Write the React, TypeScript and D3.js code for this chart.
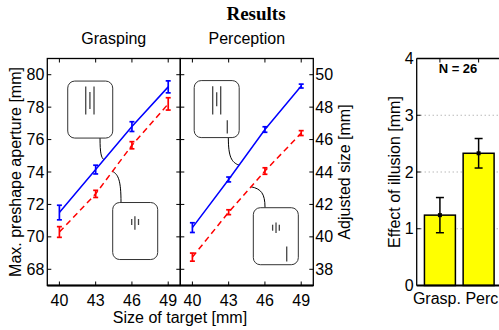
import React from 'react';
import * as d3 from 'd3';

// target sizes and means (mm)
const targetSizes = [40, 43, 46, 49];
const graspLarge = [71.5, 74.15, 76.8, 79.25];
const graspLargeErr = [0.45, 0.27, 0.3, 0.37];
const graspSmall = [70.3, 72.65, 75.65, 78.2];
const graspSmallErr = [0.33, 0.22, 0.22, 0.38];
const percLarge = [40.57, 43.54, 46.62, 49.3];
const percLargeErr = [0.3, 0.15, 0.17, 0.12];
const percSmall = [38.75, 41.52, 44.06, 46.4];
const percSmallErr = [0.25, 0.15, 0.2, 0.15];

const graspTicks = [68, 70, 72, 74, 76, 78, 80];
const percTicks = [38, 40, 42, 44, 46, 48, 50];

const effectLabels = ['Grasp.', 'Perc.'];
const effectValues = [1.24, 2.33];
const effectErr = [0.31, 0.26];
const effectTicks = [0, 1, 2, 3, 4];

const W = 499;
const H = 330;
const TOP = 58.5;
const BOTTOM = 285.5;
const SANS = '"Liberation Sans", Arial, sans-serif';

type Inset = {
  cx: number; cy: number; // box centre, data units
  lines: number[][]; // [dx, y1, y2] px relative to centre
  from: number[]; // connector start, px relative to centre
  to: number[]; // connector end, data units
};

const graspInsets: Inset[] = [
  { cx: 42.55, cy: 77.85, lines: [[-4.5, -23, 5], [-0.3, -17.5, -0.5], [3.8, -23, 5]], from: [9.8, 28.5], to: [43.69, 74.75] },
  { cx: 46.27, cy: 70.36, lines: [[-3.5, -12, -6], [-0.3, -14.7, -1.3], [3.3, -12, -6]], from: [-14.2, -28.5], to: [44.39, 74.04] },
];
const percInsets: Inset[] = [
  { cx: 42.01, cy: 47.88, lines: [[-4, -22.8, 5.5], [0, -16.8, -2.8], [4, -22.8, 5.5], [10.6, 11.2, 24.5]], from: [11.65, 28.5], to: [43.86, 44.42] },
  { cx: 46.9, cy: 40.04, lines: [[-3.2, -11.5, -5.5], [0.2, -13.8, -3.2], [3.5, -11.5, -5.5], [10.9, 10.2, 25.2]], from: [-10.8, -28.5], to: [44.85, 43.09] },
];

type Series = { values: number[]; err: number[]; color: string; dash?: string };

function Panel({ x0, x1, yDomain, ticks, side, title, series, insets }: {
  x0: number; x1: number; yDomain: [number, number]; ticks: number[]; side: 'left' | 'right';
  title: string; series: Series[]; insets: Inset[];
}) {
  const x = d3.scaleLinear().domain([39, 50]).range([x0, x1]);
  const y = d3.scaleLinear().domain(yDomain).range([BOTTOM, TOP]);
  const line = d3.line<number>().x((_, i) => x(targetSizes[i])).y(d => y(d));
  const tl = 4;
  return (
    <g>
      <text x={(x0 + x1) / 2} y={44} textAnchor="middle" fontSize={16} fontFamily={SANS}>{title}</text>
      {insets.map((n, i) => {
        const cx = x(n.cx), cy = y(n.cy);
        const sx = cx + n.from[0], sy = cy + n.from[1];
        const ex = x(n.to[0]), ey = y(n.to[1]);
        const d = `M${sx},${sy} C${sx},${sy + 0.7 * (ey - sy)} ${sx + 0.3 * (ex - sx)},${ey - 0.1 * (ey - sy)} ${ex},${ey}`;
        return (
          <g key={i}>
            <path d={d} fill="none" stroke="#000" strokeWidth={1} />
            <rect x={cx - 22.5} y={cy - 28.5} width={45} height={57} rx={7} fill="#fff" stroke="#333" strokeWidth={1} />
            {n.lines.map((l, j) => (
              <line key={j} x1={cx + l[0]} x2={cx + l[0]} y1={cy + l[1]} y2={cy + l[2]} stroke="#444" strokeWidth={1.3} />
            ))}
          </g>
        );
      })}
      {series.map((s, k) => (
        <g key={k}>
          <path d={line(s.values) || ''} fill="none" stroke={s.color} strokeWidth={1.5} strokeDasharray={s.dash} />
          {s.values.map((v, i) => {
            const px = x(targetSizes[i]);
            const lo = y(v - s.err[i]), hi = y(v + s.err[i]);
            return (
              <g key={i} stroke={s.color} strokeWidth={1.7}>
                <line x1={px} x2={px} y1={lo} y2={hi} />
                <line x1={px - 2.5} x2={px + 2.5} y1={lo} y2={lo} />
                <line x1={px - 2.5} x2={px + 2.5} y1={hi} y2={hi} />
              </g>
            );
          })}
        </g>
      ))}
      {ticks.map(t => (
        <g key={t} stroke="#000" strokeWidth={1}>
          <line x1={x0} x2={x0 + tl} y1={y(t)} y2={y(t)} />
          <line x1={x1} x2={x1 - tl} y1={y(t)} y2={y(t)} />
        </g>
      ))}
      {targetSizes.map(t => (
        <g key={t} stroke="#000" strokeWidth={1}>
          <line x1={x(t)} x2={x(t)} y1={TOP} y2={TOP + tl} />
          <line x1={x(t)} x2={x(t)} y1={BOTTOM} y2={BOTTOM - tl} />
        </g>
      ))}
      <rect x={x0} y={TOP} width={x1 - x0} height={BOTTOM - TOP} fill="none" stroke="#000" strokeWidth={1.3} />
      <line x1={x0} x2={x1} y1={BOTTOM} y2={BOTTOM} stroke="#000" strokeWidth={2} />
      {ticks.map(t => (
        <text key={t} x={side === 'left' ? x0 - 3 : x1 + 2} y={y(t) + 5.5}
          textAnchor={side === 'left' ? 'end' : 'start'} fontSize={16} fontFamily={SANS}>{t}</text>
      ))}
      {targetSizes.map(t => (
        <text key={t} x={x(t)} y={305.5} textAnchor="middle" fontSize={16} fontFamily={SANS}>{t}</text>
      ))}
    </g>
  );
}

function EffectChart() {
  const left = 416.7;
  const x = d3.scaleLinear().domain([0.4, 3.6]).range([left, left + 3.2 * 38.7]);
  const y = d3.scaleLinear().domain([0, 4]).range([BOTTOM, TOP]);
  const bw = 0.8 * 38.7;
  // labels sit a little apart from the bar centres in the original
  const labelShift = [-3, 5.5];
  return (
    <g>
      {[1, 2, 3].map(t => (
        <line key={t} x1={left} x2={W} y1={y(t)} y2={y(t)} stroke="#999" strokeWidth={1} strokeDasharray="1 3" />
      ))}
      {effectValues.map((v, i) => {
        const cx = x(i + 1);
        const lo = y(v - effectErr[i]), hi = y(v + effectErr[i]);
        return (
          <g key={i}>
            <rect x={cx - bw / 2} y={y(v)} width={bw} height={BOTTOM - y(v)} fill="#ffff00" stroke="#000" strokeWidth={1.5} />
            <g stroke="#000" strokeWidth={1.5}>
              <line x1={cx} x2={cx} y1={lo} y2={hi} />
              <line x1={cx - 4} x2={cx + 4} y1={lo} y2={lo} />
              <line x1={cx - 4} x2={cx + 4} y1={hi} y2={hi} />
            </g>
            <rect x={cx - 2} y={y(v) - 2} width={4} height={4} fill="#000" />
          </g>
        );
      })}
      {effectTicks.map(t => (
        <g key={t}>
          <line x1={left} x2={left + 4} y1={y(t)} y2={y(t)} stroke="#000" />
          <text x={left - 3} y={y(t) + 5.5} textAnchor="end" fontSize={16} fontFamily={SANS}>{t}</text>
        </g>
      ))}
      {effectLabels.map((l, i) => (
        <g key={l}>
          <line x1={x(i + 1)} x2={x(i + 1)} y1={TOP} y2={TOP + 4} stroke="#000" />
          <text x={x(i + 1) + labelShift[i]} y={303.5} textAnchor="middle" fontSize={16} fontFamily={SANS}>{l}</text>
        </g>
      ))}
      <line x1={left} x2={W} y1={TOP} y2={TOP} stroke="#000" strokeWidth={1.3} />
      <line x1={left} x2={left} y1={TOP} y2={BOTTOM} stroke="#000" strokeWidth={1.3} />
      <line x1={left} x2={W} y1={BOTTOM} y2={BOTTOM} stroke="#000" strokeWidth={2} />
      <text x={458} y={72.5} textAnchor="middle" fontSize={13} fontWeight="bold" fontFamily={SANS}>N = 26</text>
      <text transform={`translate(400,${(TOP + BOTTOM) / 2}) rotate(-90)`} textAnchor="middle" fontSize={16} fontFamily={SANS}>Effect of illusion [mm]</text>
    </g>
  );
}

export default function App() {
  return (
    <svg width={W} height={H} style={{ position: 'absolute', left: 0, top: 0, background: '#fff' }}>
      <rect width={W} height={H} fill="#fff" />
      <text x={256} y={20} textAnchor="middle" fontSize={19} fontWeight="bold" fontFamily='"Liberation Serif", "Times New Roman", serif'>Results</text>
      <Panel x0={47.3} x1={180.3} yDomain={[67, 81]} ticks={graspTicks} side="left" title="Grasping"
        series={[
          { values: graspSmall, err: graspSmallErr, color: '#ff0000', dash: '6 4' },
          { values: graspLarge, err: graspLargeErr, color: '#0000ff' },
        ]} insets={graspInsets} />
      <Panel x0={180.3} x1={313.3} yDomain={[37, 51]} ticks={percTicks} side="right" title="Perception"
        series={[
          { values: percSmall, err: percSmallErr, color: '#ff0000', dash: '6 4' },
          { values: percLarge, err: percLargeErr, color: '#0000ff' },
        ]} insets={percInsets} />
      <text transform={`translate(21,${(TOP + BOTTOM) / 2}) rotate(-90)`} textAnchor="middle" fontSize={16} fontFamily={SANS}>Max. preshape aperture [mm]</text>
      <text transform={`translate(350,${(TOP + BOTTOM) / 2}) rotate(-90)`} textAnchor="middle" fontSize={16} fontFamily={SANS}>Adjusted size [mm]</text>
      <text x={180} y={323} textAnchor="middle" fontSize={16} fontFamily={SANS}>Size of target [mm]</text>
      <EffectChart />
    </svg>
  );
}
